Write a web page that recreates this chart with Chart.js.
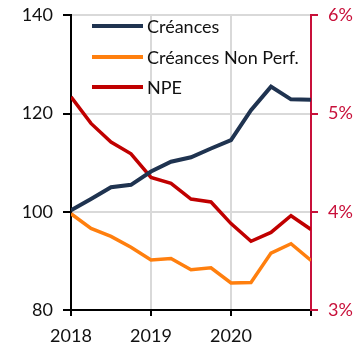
<!DOCTYPE html>
<html>
<head>
<meta charset="utf-8">
<script src="https://cdn.jsdelivr.net/npm/chart.js@4.4.1/dist/chart.umd.min.js"></script>
<style>
  html, body { margin: 0; padding: 0; background: #fff; }
  #wrap { width: 359px; height: 347px; }
</style>
</head>
<body>
<div id="wrap"><canvas id="chart"></canvas></div>
<script>
// trimestres, 2018 -> fin 2020
const trimestres = [0, 1, 2, 3, 4, 5, 6, 7, 8, 9, 10, 11, 12];
const annees = ["2018", "2019", "2020"];

// indices base 100
const creances = [100.3, 102.6, 105.0, 105.5, 108.2, 110.2, 111.1, 112.9, 114.6, 120.7, 125.5, 122.9, 122.8];
const creancesNonPerf = [99.6, 96.6, 95.0, 92.8, 90.2, 90.5, 88.2, 88.6, 85.5, 85.6, 91.6, 93.5, 90.1];
// ratio NPE, en %
const npe = [5.17, 4.90, 4.71, 4.59, 4.35, 4.29, 4.13, 4.10, 3.88, 3.70, 3.79, 3.96, 3.82];

const FONT = "Lato, 'Open Sans', sans-serif";
const ROUGE_AXE = "#C8103A";

const toPoints = (vals) => vals.map((v, i) => ({ x: trimestres[i], y: v }));

// legende dessinee dans la zone du graphique
const legendeInterne = {
  id: "legendeInterne",
  afterDatasetsDraw(chart) {
    const { ctx } = chart;
    const x0 = 92, x1 = 143, xt = 147;
    const rows = [26, 57, 87];
    ctx.save();
    ctx.font = "18px " + FONT;
    ctx.textBaseline = "middle";
    chart.data.datasets.forEach((ds, i) => {
      ctx.strokeStyle = ds.borderColor;
      ctx.lineWidth = 4;
      ctx.beginPath();
      ctx.moveTo(x0, rows[i]);
      ctx.lineTo(x1, rows[i]);
      ctx.stroke();
      ctx.fillStyle = "#111";
      ctx.fillText(ds.label, xt, rows[i] + 1);
    });
    ctx.restore();
  },
};

new Chart(document.getElementById("chart"), {
  type: "line",
  data: {
    datasets: [
      {
        label: "Créances",
        data: toPoints(creances),
        borderColor: "#1F3350",
        borderWidth: 4,
        yAxisID: "y",
      },
      {
        label: "Créances Non Perf.",
        data: toPoints(creancesNonPerf),
        borderColor: "#FF7F0E",
        borderWidth: 3.5,
        yAxisID: "y",
      },
      {
        label: "NPE",
        data: toPoints(npe),
        borderColor: "#C00000",
        borderWidth: 3.5,
        yAxisID: "y2",
      },
    ],
  },
  options: {
    responsive: true,
    maintainAspectRatio: false,
    animation: false,
    layout: { padding: { top: 11, left: 0, right: 0, bottom: 0 } },
    elements: { point: { radius: 0 }, line: { tension: 0, borderJoinStyle: "miter" } },
    plugins: { legend: { display: false }, tooltip: { enabled: false } },
    scales: {
      x: {
        type: "linear",
        min: 0,
        max: 12,
        afterFit: (s) => { s.height = 37; },
        ticks: {
          stepSize: 4,
          padding: 9,
          color: "#111",
          font: { family: FONT, size: 18 },
          callback: (v) => annees[v / 4] ?? "",
          maxRotation: 0,
        },
        grid: { color: "#D9D9D9", lineWidth: 2, tickLength: 6, tickColor: "#000" },
        border: { color: "#000", width: 2 },
      },
      y: {
        position: "left",
        min: 80,
        max: 140,
        afterFit: (s) => { s.width = 71; },
        ticks: {
          stepSize: 20,
          padding: 10,
          color: "#111",
          font: { family: FONT, size: 18, lineHeight: 0.6 },
        },
        grid: { color: "#D9D9D9", lineWidth: 2, tickLength: 8, tickColor: "#000" },
        border: { color: "#000", width: 2 },
      },
      y2: {
        position: "right",
        min: 3,
        max: 6,
        afterFit: (s) => { s.width = 48; },
        ticks: {
          stepSize: 1,
          padding: 10,
          color: ROUGE_AXE,
          font: { family: FONT, size: 18, lineHeight: 0.6 },
          callback: (v) => v + "%",
        },
        grid: { drawOnChartArea: false, tickLength: 7, tickColor: ROUGE_AXE, lineWidth: 2 },
        border: { color: ROUGE_AXE, width: 2 },
      },
    },
  },
  plugins: [legendeInterne],
});
</script>
</body>
</html>
